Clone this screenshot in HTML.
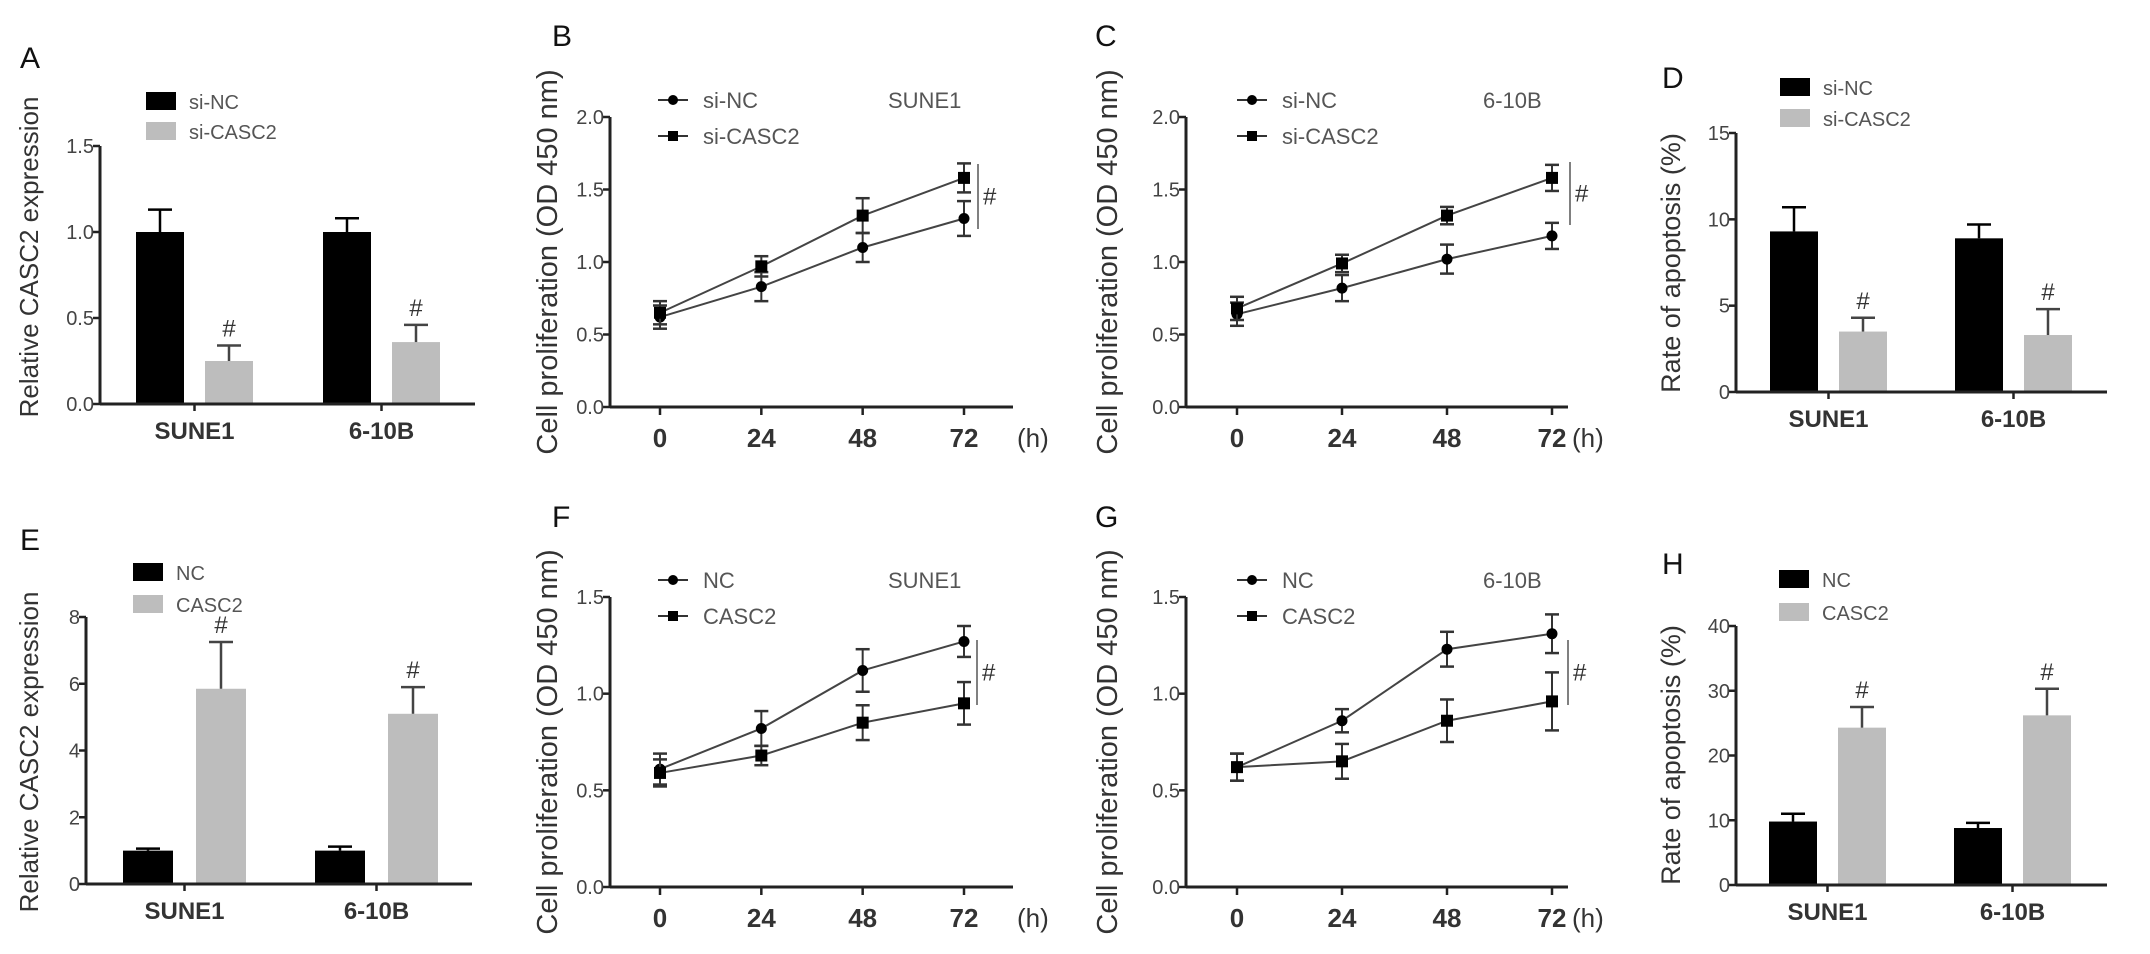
<!DOCTYPE html>
<html><head><meta charset="utf-8"><style>
html,body{margin:0;padding:0;background:#fff;}
svg{display:block;font-family:"Liberation Sans",Arial,sans-serif;}
</style></head><body>
<svg id="fig" width="2150" height="954" viewBox="0 0 2150 954"></svg>
<script>
// ---- data ----
const barCategories = ["SUNE1","6-10B"];
const timeCategories = [0,24,48,72];
// Panel A
const aNC = [1.0, 1.0];      const aNCerr = [0.13, 0.08];
const aSi = [0.25, 0.36];    const aSierr = [0.09, 0.10];
// Panel B
const bNC = [0.62,0.83,1.10,1.30]; const bNCerr=[0.08,0.10,0.10,0.12];
const bSi = [0.65,0.97,1.32,1.58]; const bSierr=[0.08,0.07,0.12,0.10];
// Panel C
const cNC = [0.64,0.82,1.02,1.18]; const cNCerr=[0.08,0.09,0.10,0.09];
const cSi = [0.68,0.99,1.32,1.58]; const cSierr=[0.08,0.06,0.06,0.09];
// Panel D
const dNC = [9.3, 8.9];  const dNCerr=[1.4,0.8];
const dSi = [3.5, 3.3];  const dSierr=[0.8,1.5];
// Panel E
const eNC = [1.0, 1.0];  const eNCerr=[0.06,0.12];
const eOE = [5.85, 5.1]; const eOEerr=[1.4,0.8];
// Panel F
const fNC = [0.61,0.82,1.12,1.27]; const fNCerr=[0.08,0.09,0.11,0.08];
const fOE = [0.59,0.68,0.85,0.95]; const fOEerr=[0.07,0.05,0.09,0.11];
// Panel G
const gNC = [0.62,0.86,1.23,1.31]; const gNCerr=[0.07,0.06,0.09,0.10];
const gOE = [0.62,0.65,0.86,0.96]; const gOEerr=[0.07,0.09,0.11,0.15];
// Panel H
const hNC = [9.8, 8.8];   const hNCerr=[1.2,0.8];
const hOE = [24.3, 26.2]; const hOEerr=[3.2,4.1];
// tick labels
const ticksA = ["0.0","0.5","1.0","1.5"];
const ticksBC = ["0.0","0.5","1.0","1.5","2.0"];
const ticksD = ["0","5","10","15"];
const ticksE = ["0","2","4","6","8"];
const ticksFG = ["0.0","0.5","1.0","1.5"];
const ticksH = ["0","10","20","30","40"];

const NS="http://www.w3.org/2000/svg";
const svg=document.getElementById('fig');
const TXT="#333";
function el(tag,attrs,parent,text){const e=document.createElementNS(NS,tag);for(const k in attrs)e.setAttribute(k,attrs[k]);if(text!==undefined)e.textContent=text;(parent||svg).appendChild(e);return e;}

function axisY(g,x,y0,y1,ticks,maxV){
  const l=el('line',{x1:x,y1:y0,x2:x,y2:y1,stroke:'#222','stroke-width':3},g);
  
  
  ticks.forEach(t=>{const v=parseFloat(t);const y=y0-(v/maxV)*(y0-y1);
    el('line',{x1:x-7,y1:y,x2:x,y2:y,stroke:'#222','stroke-width':2.5},g);
    const tx=el('text',{x:x-6,y:y+7,'font-size':20,'text-anchor':'end',fill:'#444'},g,t);
    
    
  });
}
function letter(x,y,s){const t=el('text',{x:x,y:y,'font-size':30,fill:'#111'},svg,s);
  
  }
function ylabel(cx,cy,s,fs){const t=el('text',{x:0,y:0,'font-size':fs,fill:TXT,'text-anchor':'middle',transform:`translate(${cx},${cy}) rotate(-90)`},svg,s);
  
  }

function barPanel(o){
  const g=el('g',{});  
  const sy=v=>o.y0-(v/o.max)*(o.y0-o.y1);
  const series=[[o.s1,o.e1,'#000',o.dx1],[o.s2,o.e2,'#bdbdbd',o.dx2]];
  series.forEach((s,si)=>{
    s[0].forEach((v,i)=>{
      const cx=o.cx[i]+s[3];
      const r=el('rect',{x:cx-o.bw/2,y:sy(v),width:o.bw,height:o.y0-sy(v),fill:s[2]},g);
      
      
      const top=sy(v+s[1][i]);
      el('line',{x1:cx,y1:sy(v),x2:cx,y2:top,stroke:si?'#444':'#000','stroke-width':2.5},g);
      el('line',{x1:cx-12,y1:top,x2:cx+12,y2:top,stroke:si?'#444':'#000','stroke-width':2.5},g);
      if(si){const h=el('text',{x:cx,y:top-9,'font-size':24,'text-anchor':'middle',fill:TXT},g,'#');
        
        }
    });
  });
  axisY(g,o.ax,o.y0,o.y1,o.ticks,o.max);
  const xa=el('line',{x1:o.ax,y1:o.y0,x2:o.xend,y2:o.y0,stroke:'#222','stroke-width':3},g);
  
  
  barCategories.forEach((c,i)=>{
    const tx=o.cx[i]+(o.dx1+o.dx2)/2;
    el('line',{x1:tx,y1:o.y0,x2:tx,y2:o.y0+7,stroke:'#222','stroke-width':2.5},g);
    const t=el('text',{x:tx,y:o.y0+35,'font-size':24,'font-weight':'bold','text-anchor':'middle',fill:TXT},g,c);
    
    
  });
  [[o.l1,'#000'],[o.l2,'#bdbdbd']].forEach((L,i)=>{
    const y=o.ly+i*o.lgap;
    const r=el('rect',{x:o.lx,y:y,width:30,height:18,fill:L[1]},g);
    
    
    const t=el('text',{x:o.lx+43,y:y+17,'font-size':20,fill:'#555'},g,L[0]);
    
    
  });
}

function linePanel(o){
  const g=el('g',{});  
  const sy=v=>o.y0-(v/o.max)*(o.y0-o.y1);
  const sx=t=>o.x0+(t/72)*(o.x72-o.x0);
  axisY(g,o.ax,o.y0,o.y1,o.ticks,o.max);
  const xa=el('line',{x1:o.ax,y1:o.y0,x2:o.xend,y2:o.y0,stroke:'#222','stroke-width':3},g);
  
  
  timeCategories.forEach(t=>{
    el('line',{x1:sx(t),y1:o.y0,x2:sx(t),y2:o.y0+8,stroke:'#222','stroke-width':2.5},g);
    const tx=el('text',{x:sx(t),y:o.y0+40,'font-size':26,'font-weight':'bold','text-anchor':'middle',fill:'#333'},g,String(t));
    
    
  });
  const h=el('text',{x:o.xend+4,y:o.y0+40,'font-size':26,fill:'#333'},g,'(h)');
  
  
  const series=[[o.s1,o.e1,'circle'],[o.s2,o.e2,'square']];
  series.forEach((s,si)=>{
    const pts=timeCategories.map((t,i)=>sx(t)+','+sy(s[0][i])).join(' ');
    const pl=el('polyline',{points:pts,fill:'none',stroke:'#444','stroke-width':2},g);
    
    
    timeCategories.forEach((t,i)=>{
      const x=sx(t),v=s[0][i],e=s[1][i];
      el('line',{x1:x,y1:sy(v-e),x2:x,y2:sy(v+e),stroke:'#333','stroke-width':2},g);
      el('line',{x1:x-7,y1:sy(v-e),x2:x+7,y2:sy(v-e),stroke:'#333','stroke-width':2.5},g);
      el('line',{x1:x-7,y1:sy(v+e),x2:x+7,y2:sy(v+e),stroke:'#333','stroke-width':2.5},g);
      let m;
      if(s[2]==='circle') m=el('circle',{cx:x,cy:sy(v),r:5.5,fill:'#000'},g);
      else m=el('rect',{x:x-6,y:sy(v)-6,width:12,height:12,fill:'#000'},g);
      
      
    });
  });
  [[o.l1,'circle'],[o.l2,'square']].forEach((L,i)=>{
    const y=o.ly+i*36;
    el('line',{x1:o.lx-15,y1:y,x2:o.lx+15,y2:y,stroke:'#333','stroke-width':2},g);
    if(L[1]==='circle') el('circle',{cx:o.lx,cy:y,r:5,fill:'#000'},g);
    else el('rect',{x:o.lx-5,y:y-5,width:10,height:10,fill:'#000'},g);
    const t=el('text',{x:o.lx+30,y:y+8,'font-size':22,fill:'#555'},g,L[0]);
    
    
  });
  const c=el('text',{x:o.cellx,y:o.ly+8,'font-size':22,fill:'#555'},g,o.cell);
  
  
  el('line',{x1:o.bx,y1:o.by1,x2:o.bx,y2:o.by2,stroke:'#555','stroke-width':1.5},g);
  const hs=el('text',{x:o.bx+5,y:(o.by1+o.by2)/2+8,'font-size':24,fill:TXT},g,'#');
  
  
}

// ---- Panels ----
letter(20,68,'A'); ylabel(38,257,'Relative CASC2 expression',26);
barPanel({id:'a',ax:100,y0:404,y1:146,max:1.5,ticks:ticksA,xend:475,cx:[194,381],dx1:-34,dx2:35,bw:48,
  s1:aNC,e1:aNCerr,s2:aSi,e2:aSierr,l1:'si-NC',l2:'si-CASC2',lx:146,ly:92,lgap:30});

letter(552,46,'B'); ylabel(557,262,'Cell proliferation (OD 450 nm)',29);
linePanel({id:'b',ax:610,y0:407,y1:117,max:2.0,ticks:ticksBC,x0:660,x72:964,xend:1013,
  s1:bNC,e1:bNCerr,s2:bSi,e2:bSierr,l1:'si-NC',l2:'si-CASC2',lx:673,ly:100,cell:'SUNE1',cellx:888,bx:978,by1:164,by2:229});

letter(1095,46,'C'); ylabel(1117,262,'Cell proliferation (OD 450 nm)',29);
linePanel({id:'c',ax:1186,y0:407,y1:117,max:2.0,ticks:ticksBC,x0:1237,x72:1552,xend:1568,
  s1:cNC,e1:cNCerr,s2:cSi,e2:cSierr,l1:'si-NC',l2:'si-CASC2',lx:1252,ly:100,cell:'6-10B',cellx:1483,bx:1570,by1:162,by2:225});

letter(1662,88,'D'); ylabel(1680,263,'Rate of apoptosis (%)',27);
barPanel({id:'d',ax:1736,y0:392,y1:133,max:15,ticks:ticksD,xend:2107,cx:[1829,2014],dx1:-35,dx2:34,bw:48,
  s1:dNC,e1:dNCerr,s2:dSi,e2:dSierr,l1:'si-NC',l2:'si-CASC2',lx:1780,ly:78,lgap:31});

letter(20,550,'E'); ylabel(38,752,'Relative CASC2 expression',26);
barPanel({id:'e',ax:86,y0:884,y1:617,max:8,ticks:ticksE,xend:472,cx:[184,376],dx1:-36,dx2:37,bw:50,
  s1:eNC,e1:eNCerr,s2:eOE,e2:eOEerr,l1:'NC',l2:'CASC2',lx:133,ly:563,lgap:32});

letter(552,527,'F'); ylabel(557,742,'Cell proliferation (OD 450 nm)',29);
linePanel({id:'f',ax:610,y0:887,y1:597,max:1.5,ticks:ticksFG,x0:660,x72:964,xend:1013,
  s1:fNC,e1:fNCerr,s2:fOE,e2:fOEerr,l1:'NC',l2:'CASC2',lx:673,ly:580,cell:'SUNE1',cellx:888,bx:977,by1:640,by2:705});

letter(1095,527,'G'); ylabel(1117,742,'Cell proliferation (OD 450 nm)',29);
linePanel({id:'g',ax:1186,y0:887,y1:597,max:1.5,ticks:ticksFG,x0:1237,x72:1552,xend:1568,
  s1:gNC,e1:gNCerr,s2:gOE,e2:gOEerr,l1:'NC',l2:'CASC2',lx:1252,ly:580,cell:'6-10B',cellx:1483,bx:1568,by1:640,by2:705});

letter(1662,574,'H'); ylabel(1680,755,'Rate of apoptosis (%)',27);
barPanel({id:'h',ax:1736,y0:885,y1:626,max:40,ticks:ticksH,xend:2107,cx:[1828,2013],dx1:-35,dx2:34,bw:48,
  s1:hNC,e1:hNCerr,s2:hOE,e2:hOEerr,l1:'NC',l2:'CASC2',lx:1779,ly:570,lgap:33});
</script>
</body></html>
